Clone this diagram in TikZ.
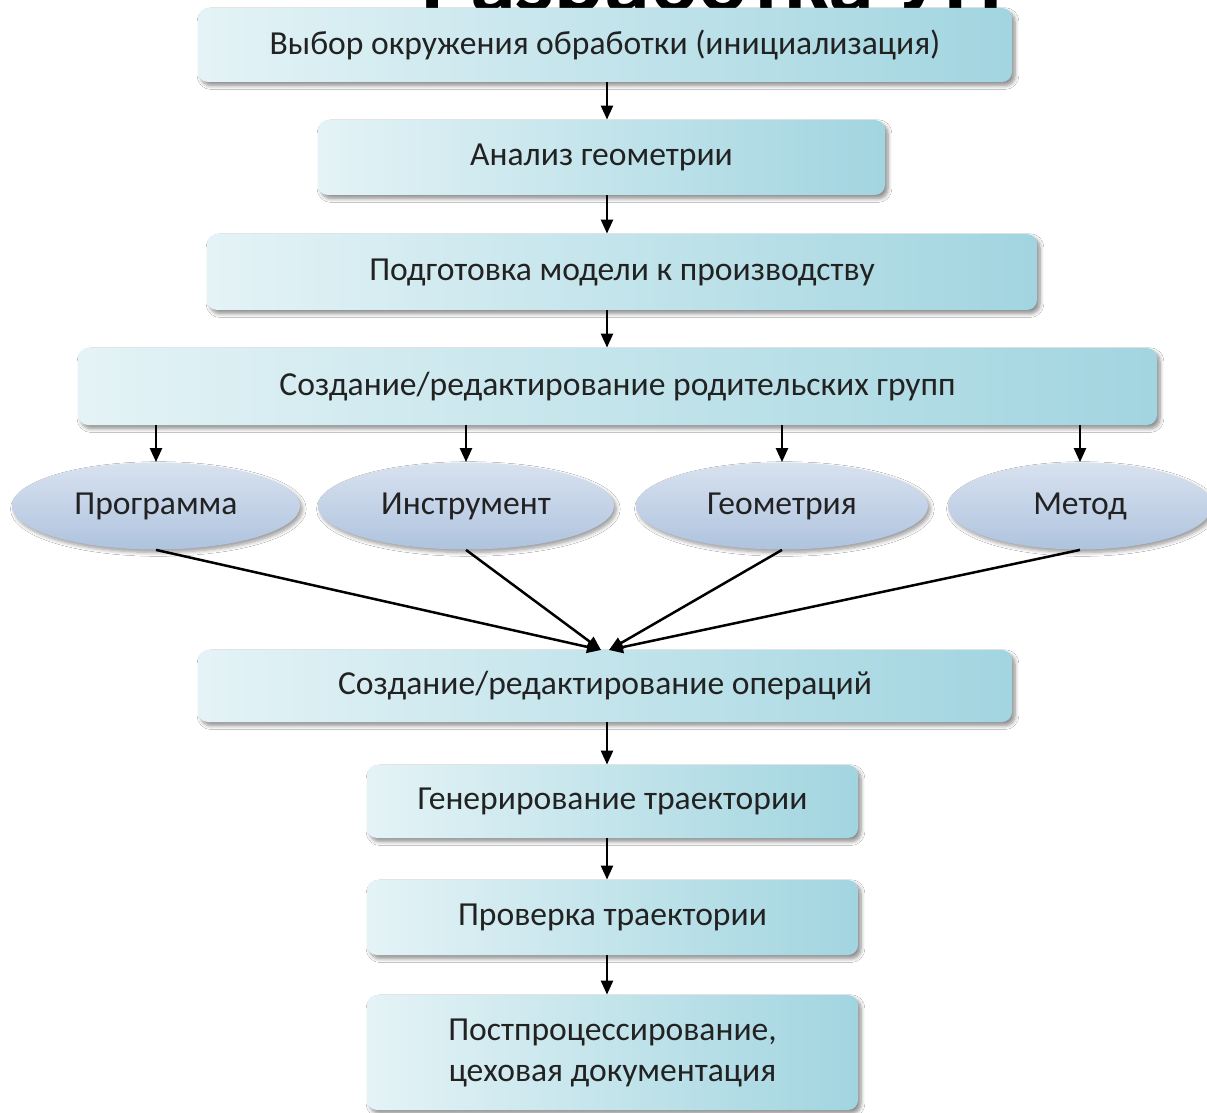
\documentclass[tikz,border=0pt]{standalone}
\usepackage{fontspec}
\setmainfont{Carlito}
\usetikzlibrary{arrows.meta,shapes.geometric,shadows.blur,calc}
\definecolor{txt}{HTML}{222222}
\definecolor{boxL}{HTML}{E4F3F6}
\definecolor{boxR}{HTML}{A2D5E0}
\definecolor{ellT}{HTML}{D8E2F0}
\definecolor{ellB}{HTML}{AFC3DE}
\tikzset{
  stepbox/.style={rectangle, rounded corners=5pt, draw=none,
    left color=boxL, right color=boxR, text=txt,
    font=\fontsize{16.8}{20.5}\selectfont, align=center,
    blur shadow={shadow xshift=1.5pt, shadow yshift=-1.8pt, shadow blur steps=6, shadow opacity=45}},
  groupell/.style={ellipse, draw=none, top color=ellT, bottom color=ellB,
    text=txt, font=\fontsize{16.8}{20.5}\selectfont, inner sep=0pt,
    blur shadow={shadow xshift=1.2pt, shadow yshift=-1.5pt, shadow blur steps=6, shadow opacity=40}},
  arr/.style={line width=1.25pt, -{Triangle[length=7pt,width=6pt]}, black}
}
\begin{document}
\begin{tikzpicture}[x=0.5pt,y=-0.5pt]
\useasboundingbox (0,0) rectangle (1207,1113);
\fill[white] (0,0) rectangle (1207,1113);
% cut-off title
\begin{scope}
\clip (0,0) rectangle (1207,14);
\node[anchor=base, inner sep=0pt, font=\fontsize{46}{46}\selectfont\bfseries] (title) at (712,12) {\raisebox{0pt}[\height][0pt]{Разработка УП}};
\end{scope}
% boxes
\node[stepbox, minimum width=407pt, minimum height=37pt] (b1) at (605,45) {Выбор окружения обработки (инициализация)};
\node[stepbox, minimum width=283.5pt, minimum height=37.5pt] (b2) at (601.5,157.5) {Анализ геометрии};
\node[stepbox, minimum width=415pt, minimum height=38pt] (b3) at (622,272) {Подготовка модели к производству};
\node[stepbox, minimum width=539.5pt, minimum height=38.5pt] (b4) at (617.5,386.5) {Создание/редактирование родительских групп};
\node[stepbox, minimum width=407pt, minimum height=36pt] (b5) at (605,686) {Создание/редактирование операций};
\node[stepbox, minimum width=245.5pt, minimum height=36.5pt] (b6) at (612.5,801.5) {Генерирование траектории};
\node[stepbox, minimum width=245.5pt, minimum height=37.5pt] (b7) at (612.5,917.5) {Проверка траектории};
\node[stepbox, minimum width=245.5pt, minimum height=57.5pt] (b8) at (612.5,1052.5) {Постпроцессирование,\\цеховая документация};
% ellipses
\node[groupell, minimum width=144pt, minimum height=43.5pt] (e1) at (156,506) {Программа};
\node[groupell, minimum width=148pt, minimum height=43.5pt] (e2) at (466,506) {Инструмент};
\node[groupell, minimum width=146pt, minimum height=43.5pt] (e3) at (782,506) {Геометрия};
\node[groupell, minimum width=132pt, minimum height=43.5pt] (e4) at (1080,506) {Метод};
% vertical arrows
\coordinate (vx) at (607,0);
\draw[arr] (b1.south -| vx) -- (b2.north -| vx);
\draw[arr] (b2.south -| vx) -- (b3.north -| vx);
\draw[arr] (b3.south -| vx) -- (b4.north -| vx);
\draw[arr] (b5.south -| vx) -- (b6.north -| vx);
\draw[arr] (b6.south -| vx) -- (b7.north -| vx);
\draw[arr] (b7.south -| vx) -- (b8.north -| vx);
% group arrows
\draw[arr] (b4.south -| e1.north) -- (e1.north);
\draw[arr] (b4.south -| e2.north) -- (e2.north);
\draw[arr] (b4.south -| e3.north) -- (e3.north);
\draw[arr] (b4.south -| e4.north) -- (e4.north);
% converging arrows
\coordinate (cL) at (601,650);
\coordinate (cR) at (609,650);
\draw[arr] (e1.south) -- (cL);
\draw[arr] (e2.south) -- (cL);
\draw[arr] (e3.south) -- (cR);
\draw[arr] (e4.south) -- (cR);
\end{tikzpicture}
\end{document}
